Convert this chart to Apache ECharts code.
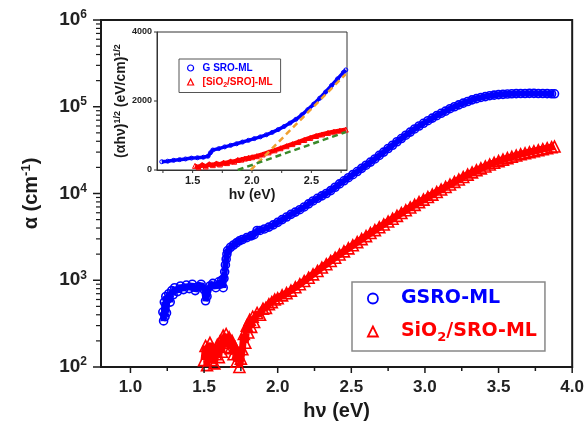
<!DOCTYPE html>
<html>
<head>
<meta charset="utf-8">
<script src="https://cdn.jsdelivr.net/npm/echarts@6/dist/echarts.min.js"></script>
<style>
html, body { margin: 0; padding: 0; background: #fff; }
#chart { width: 587px; height: 427px; }
</style>
</head>
<body>
<div id="chart"></div>
<script>
// main plot: alpha (cm^-1) vs photon energy (eV)
const blueE = [1.22, 1.225, 1.23, 1.235, 1.24, 1.245, 1.25, 1.26, 1.27, 1.28, 1.29, 1.30,
  1.32, 1.34, 1.36, 1.38, 1.40, 1.42, 1.44, 1.46, 1.48, 1.50, 1.51, 1.52,
  1.54, 1.56, 1.58, 1.60, 1.61, 1.62, 1.63, 1.635, 1.64, 1.645, 1.65, 1.655, 1.66,
  1.68, 1.70, 1.72, 1.74, 1.76, 1.79, 1.82, 1.84, 1.86, 1.88,
  1.91, 1.94, 1.97, 2.00, 2.03, 2.06, 2.09, 2.12, 2.15, 2.18,
  2.21, 2.24, 2.27, 2.30, 2.33, 2.36, 2.39, 2.42, 2.45, 2.48,
  2.51, 2.54, 2.57, 2.60, 2.63, 2.66, 2.69, 2.72, 2.75, 2.78,
  2.81, 2.84, 2.87, 2.90, 2.93, 2.96, 2.99, 3.02, 3.05, 3.08,
  3.11, 3.14, 3.17, 3.20, 3.23, 3.26, 3.29, 3.32, 3.35, 3.38,
  3.41, 3.44, 3.47, 3.50, 3.53, 3.56, 3.59, 3.62, 3.65, 3.68,
  3.71, 3.74, 3.77, 3.80, 3.83, 3.86, 3.88]
const blueA = [430, 340, 560, 380, 650, 420, 600, 700, 560, 760, 680, 820,
  740, 860, 780, 880, 800, 900, 760, 840, 900, 780, 580, 650,
  860, 920, 820, 960, 900, 1000, 820, 1050, 1250, 1500, 1750, 2000, 2200,
  2400, 2550, 2700, 2850, 2950, 3100, 3250, 3350, 3750, 3750,
  3900, 4100, 4350, 4650, 5000, 5350, 5750, 6100, 6500, 7000,
  7600, 8200, 8800, 9400, 10000, 10800, 11800, 12900, 14000, 15200,
  16500, 17900, 19500, 21200, 23000, 25000, 27500, 30000, 33000, 36000,
  39500, 43000, 47000, 51000, 55500, 60000, 64500, 69000, 74000, 79000,
  84000, 89000, 95000, 100000, 105000, 110000, 115000, 120000, 124000, 128000,
  131000, 134000, 136000, 138000, 139000, 140000, 141000, 141500, 142000, 142000,
  142500, 142500, 142000, 142000, 141500, 141000, 141000]

const redE = [1.50, 1.51, 1.52, 1.53, 1.54, 1.55, 1.56, 1.57, 1.58, 1.59,
  1.60, 1.61, 1.62, 1.63, 1.64, 1.65, 1.66, 1.67, 1.68, 1.69,
  1.70, 1.71, 1.72, 1.73, 1.74, 1.75, 1.76, 1.77, 1.78, 1.79,
  1.80, 1.81, 1.82, 1.83, 1.84,
  1.86, 1.88, 1.90, 1.92, 1.94, 1.96, 1.98, 2.00,
  2.03, 2.06, 2.09, 2.12, 2.15, 2.18, 2.21, 2.24, 2.27, 2.30,
  2.33, 2.36, 2.39, 2.42, 2.45, 2.48, 2.51, 2.54, 2.57, 2.60,
  2.63, 2.66, 2.69, 2.72, 2.75, 2.78, 2.81, 2.84, 2.87, 2.90,
  2.93, 2.96, 2.99, 3.02, 3.05, 3.08, 3.11, 3.14, 3.17, 3.20,
  3.23, 3.26, 3.29, 3.32, 3.35, 3.38, 3.41, 3.44, 3.47, 3.50,
  3.53, 3.56, 3.59, 3.62, 3.65, 3.68, 3.71, 3.74, 3.77, 3.80,
  3.83, 3.86, 3.88]
const redA = [120, 175, 105, 150, 190, 120, 160, 110, 140, 180,
  130, 200, 150, 230, 170, 240, 190, 220, 165, 200,
  140, 170, 115, 145, 100, 125, 160, 240, 190, 300,
  250, 350, 290, 380, 330,
  420, 400, 470, 480, 530, 560, 600, 620,
  670, 710, 760, 830, 900, 980, 1070, 1170, 1280, 1400,
  1530, 1670, 1820, 1980, 2150, 2330, 2530, 2750, 2980, 3230,
  3500, 3780, 4080, 4400, 4750, 5120, 5520, 5950, 6400, 6900,
  7400, 7950, 8500, 9100, 9700, 10400, 11100, 11900, 12700, 13600,
  14500, 15500, 16500, 17500, 18500, 19500, 20500, 21600, 22600, 23600,
  24600, 25600, 26500, 27400, 28300, 29100, 29900, 30700, 31500, 32400,
  33300, 34200, 34800]

// inset: (alpha h nu)^1/2
const inBlueE = [1.24, 1.29, 1.34, 1.39, 1.44, 1.49, 1.54, 1.59, 1.63, 1.65,
  1.67, 1.72, 1.77, 1.82, 1.87, 1.92, 1.97, 2.02, 2.07, 2.12,
  2.17, 2.22, 2.27, 2.32, 2.37, 2.42, 2.47, 2.52, 2.57, 2.62,
  2.67, 2.72, 2.77, 2.79]
const inBlueV = [240, 255, 280, 300, 320, 345, 355, 370, 400, 500,
  580, 620, 670, 715, 760, 810, 860, 910, 960, 1020,
  1090, 1170, 1260, 1360, 1470, 1600, 1750, 1910, 2080, 2260,
  2450, 2640, 2830, 2900]
const inRedE = [1.52, 1.55, 1.58, 1.61, 1.64, 1.67, 1.70, 1.73, 1.76, 1.79,
  1.82, 1.85, 1.88, 1.91, 1.94, 1.97, 2.00, 2.04, 2.09, 2.14,
  2.19, 2.24, 2.29, 2.34, 2.39, 2.44, 2.49, 2.54, 2.59, 2.64,
  2.69, 2.74, 2.79]
const inRedV = [120, 80, 150, 100, 170, 140, 190, 160, 210, 200,
  250, 240, 290, 300, 330, 350, 370, 400, 450, 510,
  570, 630, 690, 750, 810, 870, 930, 985, 1030, 1075,
  1110, 1140, 1170]
// linear fits (Tauc)
const fitBlueE = [1.99, 2.79]
const fitBlueV = [0, 2780]
const fitRedE = [1.88, 2.79]
const fitRedV = [0, 1100]

// ticks
const xLabels = [1.0, 1.5, 2.0, 2.5, 3.0, 3.5, 4.0]
const xMinor = [1.25, 1.75, 2.25, 2.75, 3.25, 3.75]
const yDecades = [100, 1000, 10000, 100000, 1000000]
const minorFactors = [2, 3, 4, 5, 6, 7, 8, 9]
const inXLabels = [1.5, 2.0, 2.5]
const inXTicks = [1.25, 1.5, 1.75, 2.0, 2.25, 2.5, 2.75]
const inYTicks = [0, 2000, 4000]

const F = 'Liberation Sans, Arial, sans-serif'
const FD = 'DejaVu Sans, sans-serif'
const INK = '#1a1a1a'
const BLUE = '#0000ff'
const RED = '#ff0000'

function pairs(xs, ys) {
  return xs.map((x, i) => [x, ys[i]])
}

const yMinor = []
yDecades.slice(0, 4).forEach(b => minorFactors.forEach(f => yMinor.push(b * f)))

// axis ticks as custom series, placed by the axes' own scales
function tickSeries(xi, yi, data, dir, len, color, width) {
  return {
    type: 'custom', xAxisIndex: xi, yAxisIndex: yi, data: data, clip: false, silent: true, z: 10,
    renderItem: (params, api) => {
      const p = api.coord([api.value(0), api.value(1)])
      const shape = dir === 'down'
        ? { x1: p[0], y1: p[1], x2: p[0], y2: p[1] + len }
        : { x1: p[0] - len, y1: p[1], x2: p[0], y2: p[1] }
      return { type: 'line', shape: shape, style: { stroke: color, lineWidth: width } }
    }
  }
}

const option = {
  animation: false,
  backgroundColor: '#fff',
  grid: [
    { left: 101, right: 14, top: 20, bottom: 60, show: true, borderColor: INK, borderWidth: 2 },
    { left: 157, right: 240, top: 32, bottom: 257, show: true, borderColor: '#333', borderWidth: 1, backgroundColor: '#fff' }
  ],
  xAxis: [
    {
      type: 'value', gridIndex: 0, min: 0.8, max: 4.0, position: 'bottom',
      name: 'hν (eV)', nameLocation: 'middle', nameGap: 34,
      nameTextStyle: { fontFamily: F, fontWeight: 'bold', fontSize: 20, color: INK },
      axisLine: { show: true, onZero: false, lineStyle: { color: INK, width: 2 } },
      axisTick: { show: false },
      axisLabel: { customValues: xLabels, formatter: v => v.toFixed(1), margin: 12, fontFamily: F, fontWeight: 'bold', fontSize: 17, color: '#222' },
      splitLine: { show: false }
    },
    {
      type: 'value', gridIndex: 1, min: 1.2, max: 2.8, position: 'bottom',
      name: 'hν (eV)', nameLocation: 'middle', nameGap: 18,
      nameTextStyle: { fontFamily: F, fontWeight: 'bold', fontSize: 14, color: INK },
      axisLine: { show: true, onZero: false, lineStyle: { color: '#333', width: 1 } },
      axisTick: { show: false },
      axisLabel: { customValues: inXLabels, formatter: v => v.toFixed(1), margin: 5, fontFamily: F, fontWeight: 'bold', fontSize: 11, color: '#222' },
      splitLine: { show: false }
    }
  ],
  yAxis: [
    {
      // log axis carrying the data
      type: 'log', logBase: 10, gridIndex: 0, min: 100, max: 1000000, position: 'left',
      axisLine: { show: true, onZero: false, lineStyle: { color: INK, width: 2 } },
      axisTick: { show: false },
      axisLabel: { show: false },
      splitLine: { show: false }
    },
    {
      // decade labels, log10 space
      type: 'value', gridIndex: 0, min: 2, max: 6, interval: 1, position: 'left', offset: 0,
      name: 'α (cm{sup|-1})', nameLocation: 'middle', nameGap: 58, nameRotate: 90,
      nameTextStyle: {
        fontFamily: F, fontWeight: 'bold', fontSize: 20, color: INK,
        rich: { sup: { fontFamily: F, fontWeight: 'bold', fontSize: 13, color: INK, padding: [0, 0, 10, 0] } }
      },
      axisLine: { show: false, onZero: false },
      axisTick: { show: false },
      axisLabel: {
        margin: 14,
        formatter: v => '{b|10}{s|' + v + '}',
        rich: {
          b: { fontFamily: F, fontWeight: 'bold', fontSize: 19, color: '#222' },
          s: { fontFamily: F, fontWeight: 'bold', fontSize: 12, color: '#222', padding: [0, 0, 10, 0] }
        }
      },
      splitLine: { show: false }
    },
    {
      type: 'value', gridIndex: 1, min: 0, max: 4000, interval: 2000, position: 'left',
      name: '(αhν){s|1/2} (eV/cm){s|1/2}', nameLocation: 'middle', nameGap: 27, nameRotate: 90,
      nameTextStyle: {
        fontFamily: F, fontWeight: 'bold', fontSize: 14, color: INK,
        rich: { s: { fontFamily: F, fontWeight: 'bold', fontSize: 9, color: INK, padding: [0, 0, 8, 0] } }
      },
      axisLine: { show: true, onZero: false, lineStyle: { color: '#333', width: 1 } },
      axisTick: { show: false },
      axisLabel: { margin: 5, formatter: v => String(v), fontFamily: F, fontWeight: 'bold', fontSize: 9, color: '#222' },
      splitLine: { show: false }
    }
  ],
  legend: [
    {
      orient: 'vertical', left: 352, top: 282,
      padding: [7, 8, 7, 15], itemGap: 14, itemWidth: 10, itemHeight: 10,
      borderColor: '#888', borderWidth: 1.5, selectedMode: false,
      data: [
        { name: 'GSRO-ML', icon: 'circle', itemStyle: { color: 'rgba(0,0,0,0)', borderColor: BLUE, borderWidth: 1.8 }, textStyle: { color: BLUE } },
        { name: 'SiO2/SRO-ML', icon: 'triangle', itemStyle: { color: 'rgba(0,0,0,0)', borderColor: RED, borderWidth: 1.8 }, textStyle: { color: RED } }
      ],
      formatter: n => n === 'SiO2/SRO-ML' ? 'SiO{d|2}/SRO-ML' : n,
      textStyle: {
        fontFamily: FD, fontWeight: 'bold', fontSize: 19, padding: [0, 0, 0, 18],
        rich: { d: { fontFamily: FD, fontWeight: 'bold', fontSize: 13, color: RED, padding: [12, 0, 0, 0] } }
      }
    },
    {
      orient: 'vertical', left: 179, top: 59,
      padding: [4, 8, 4, 8], itemGap: 4, itemWidth: 6, itemHeight: 6,
      borderColor: '#555', borderWidth: 1, selectedMode: false,
      data: [
        { name: 'G SRO-ML', icon: 'circle', itemStyle: { color: 'rgba(0,0,0,0)', borderColor: BLUE, borderWidth: 1.2 }, textStyle: { color: BLUE } },
        { name: '[SiO2/SRO]-ML', icon: 'triangle', itemStyle: { color: 'rgba(0,0,0,0)', borderColor: RED, borderWidth: 1.2 }, textStyle: { color: RED } }
      ],
      formatter: n => n === '[SiO2/SRO]-ML' ? '[SiO{d|2}/SRO]-ML' : n,
      textStyle: {
        fontFamily: F, fontWeight: 'bold', fontSize: 10, padding: [0, 0, 0, 4],
        rich: { d: { fontFamily: F, fontWeight: 'bold', fontSize: 7, color: RED, padding: [6, 0, 0, 0] } }
      }
    }
  ],
  series: [
    // ticks first so a problem there cannot hide them behind later work
    tickSeries(0, 0, xLabels.map(v => [v, 100]), 'down', 6, INK, 1.5),
    tickSeries(0, 0, xMinor.map(v => [v, 100]), 'down', 4, INK, 1.5),
    tickSeries(0, 0, yDecades.map(v => [0.8, v]), 'left', 8, INK, 1.5),
    tickSeries(0, 0, yMinor.map(v => [0.8, v]), 'left', 5, INK, 1.2),
    tickSeries(1, 2, inXTicks.map(v => [v, 0]), 'down', 3, '#333', 1),
    tickSeries(1, 2, inYTicks.map(v => [1.2, v]), 'left', 3, '#333', 1),
    {
      name: 'GSRO-ML', type: 'line', xAxisIndex: 0, yAxisIndex: 0,
      data: pairs(blueE, blueA),
      symbol: 'circle', symbolSize: 8, showAllSymbol: true,
      itemStyle: { color: 'rgba(0,0,255,0)', borderColor: BLUE, borderWidth: 1.6 },
      lineStyle: { color: BLUE, width: 6 },
      emphasis: { disabled: true }
    },
    {
      name: 'SiO2/SRO-ML', type: 'line', xAxisIndex: 0, yAxisIndex: 0,
      data: pairs(redE, redA),
      symbol: 'triangle', symbolSize: 11, showAllSymbol: true,
      itemStyle: { color: 'rgba(255,0,0,0)', borderColor: RED, borderWidth: 1.6 },
      lineStyle: { color: RED, width: 7 },
      emphasis: { disabled: true }
    },
    {
      name: 'G SRO-ML', type: 'line', xAxisIndex: 1, yAxisIndex: 2,
      data: pairs(inBlueE, inBlueV),
      symbol: 'circle', symbolSize: 4, showAllSymbol: true,
      itemStyle: { color: 'rgba(0,0,255,0)', borderColor: BLUE, borderWidth: 1 },
      lineStyle: { color: BLUE, width: 3.5 },
      emphasis: { disabled: true }
    },
    {
      name: '[SiO2/SRO]-ML', type: 'line', xAxisIndex: 1, yAxisIndex: 2,
      data: pairs(inRedE, inRedV),
      symbol: 'triangle', symbolSize: 5, showAllSymbol: true,
      itemStyle: { color: 'rgba(255,0,0,0)', borderColor: RED, borderWidth: 1 },
      lineStyle: { color: RED, width: 4.5 },
      emphasis: { disabled: true }
    },
    {
      name: 'fitB', type: 'line', xAxisIndex: 1, yAxisIndex: 2,
      data: pairs(fitBlueE, fitBlueV), symbol: 'none', z: 5,
      lineStyle: { color: '#f0a030', width: 2.5, type: [6, 4] },
      emphasis: { disabled: true }
    },
    {
      name: 'fitR', type: 'line', xAxisIndex: 1, yAxisIndex: 2,
      data: pairs(fitRedE, fitRedV), symbol: 'none', z: 5,
      lineStyle: { color: '#3a8a2a', width: 2.5, type: [6, 4] },
      emphasis: { disabled: true }
    }
  ]
}

const myChart = echarts.init(document.getElementById('chart'))
myChart.setOption(option)
</script>
</body>
</html>
